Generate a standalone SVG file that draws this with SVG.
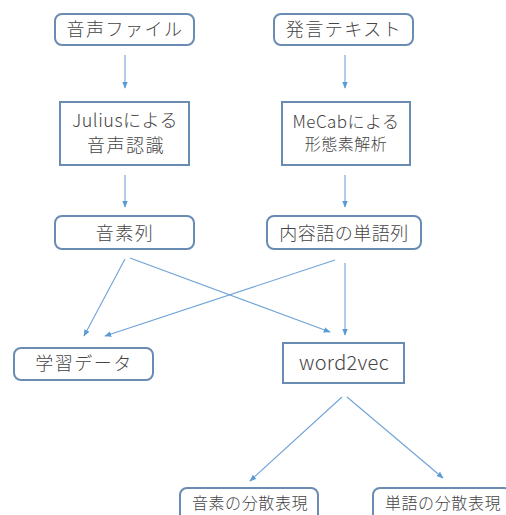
<svg xmlns="http://www.w3.org/2000/svg" width="506" height="515" viewBox="0 0 506 515">
<defs>
<style>
.box{fill:#fff;stroke:#6a8cb3;stroke-width:2}
.t{font-family:"Noto Sans CJK JP","Noto Sans",sans-serif;font-weight:300;fill:#454545;text-anchor:middle;font-size:18px;letter-spacing:1.5px}
.c{stroke:#6fa3d8;stroke-width:1.1;fill:none;marker-end:url(#ah)}
</style>
<marker id="ah" viewBox="0 0 10 10" refX="9" refY="5" markerWidth="7" markerHeight="7" orient="auto" markerUnits="userSpaceOnUse">
<path d="M0,1 L10,5 L0,9 Z" fill="#5b9bd5"/>
</marker>
</defs>
<rect width="506" height="515" fill="#fff"/>
<g id="connectors">
<line class="c" x1="125" y1="55" x2="125" y2="88"/>
<line class="c" x1="345" y1="55" x2="345" y2="88"/>
<line class="c" x1="125" y1="175" x2="125" y2="207"/>
<line class="c" x1="345" y1="175" x2="345" y2="207"/>
<line class="c" x1="125" y1="259" x2="84" y2="336"/>
<line class="c" x1="130" y1="258" x2="330" y2="332"/>
<line class="c" x1="335" y1="260" x2="105" y2="336"/>
<line class="c" x1="345" y1="263" x2="345" y2="335"/>
<line class="c" x1="342" y1="397" x2="250" y2="481"/>
<line class="c" x1="347" y1="397" x2="443" y2="478"/>
</g>
<g id="n1"><rect class="box" x="55" y="14" width="139" height="31" rx="7"/><text class="t" x="125" y="36">音声ファイル</text></g>
<g id="n2"><rect class="box" x="274" y="14" width="139" height="31" rx="7"/><text class="t" x="344" y="36">発言テキスト</text></g>
<g id="n3"><rect class="box" x="60" y="102" width="129" height="63"/><text class="t" x="125" y="127" style="letter-spacing:0.5px">Juliusによる</text><text class="t" x="126" y="152">音声認識</text></g>
<g id="n4"><rect class="box" x="282" y="102" width="128" height="63"/><text class="t" x="346" y="128" style="font-size:17px;letter-spacing:0.5px">MeCabによる</text><text class="t" x="346" y="150" style="font-size:16px;letter-spacing:0.5px">形態素解析</text></g>
<g id="n5"><rect class="box" x="55" y="216" width="139" height="33" rx="7"/><text class="t" x="125" y="240">音素列</text></g>
<g id="n6"><rect class="box" x="267" y="216" width="154" height="33" rx="7"/><text class="t" x="344" y="240" style="letter-spacing:0.5px">内容語の単語列</text></g>
<g id="n7"><rect class="box" x="14" y="348" width="139" height="32" rx="7"/><text class="t" x="84" y="370">学習データ</text></g>
<g id="n8"><rect class="box" x="283" y="343" width="121" height="40"/><text class="t" x="344" y="370" style="font-size:20px;letter-spacing:0.3px">word2vec</text></g>
<g id="n9"><rect class="box" x="180" y="488" width="138" height="34" rx="7"/><text class="t" x="250" y="509" style="font-size:16px;letter-spacing:0.6px">音素の分散表現</text></g>
<g id="n10"><rect class="box" x="373" y="488" width="138" height="34" rx="7"/><text class="t" x="443" y="509" style="font-size:16px;letter-spacing:0.6px">単語の分散表現</text></g>
</svg>
